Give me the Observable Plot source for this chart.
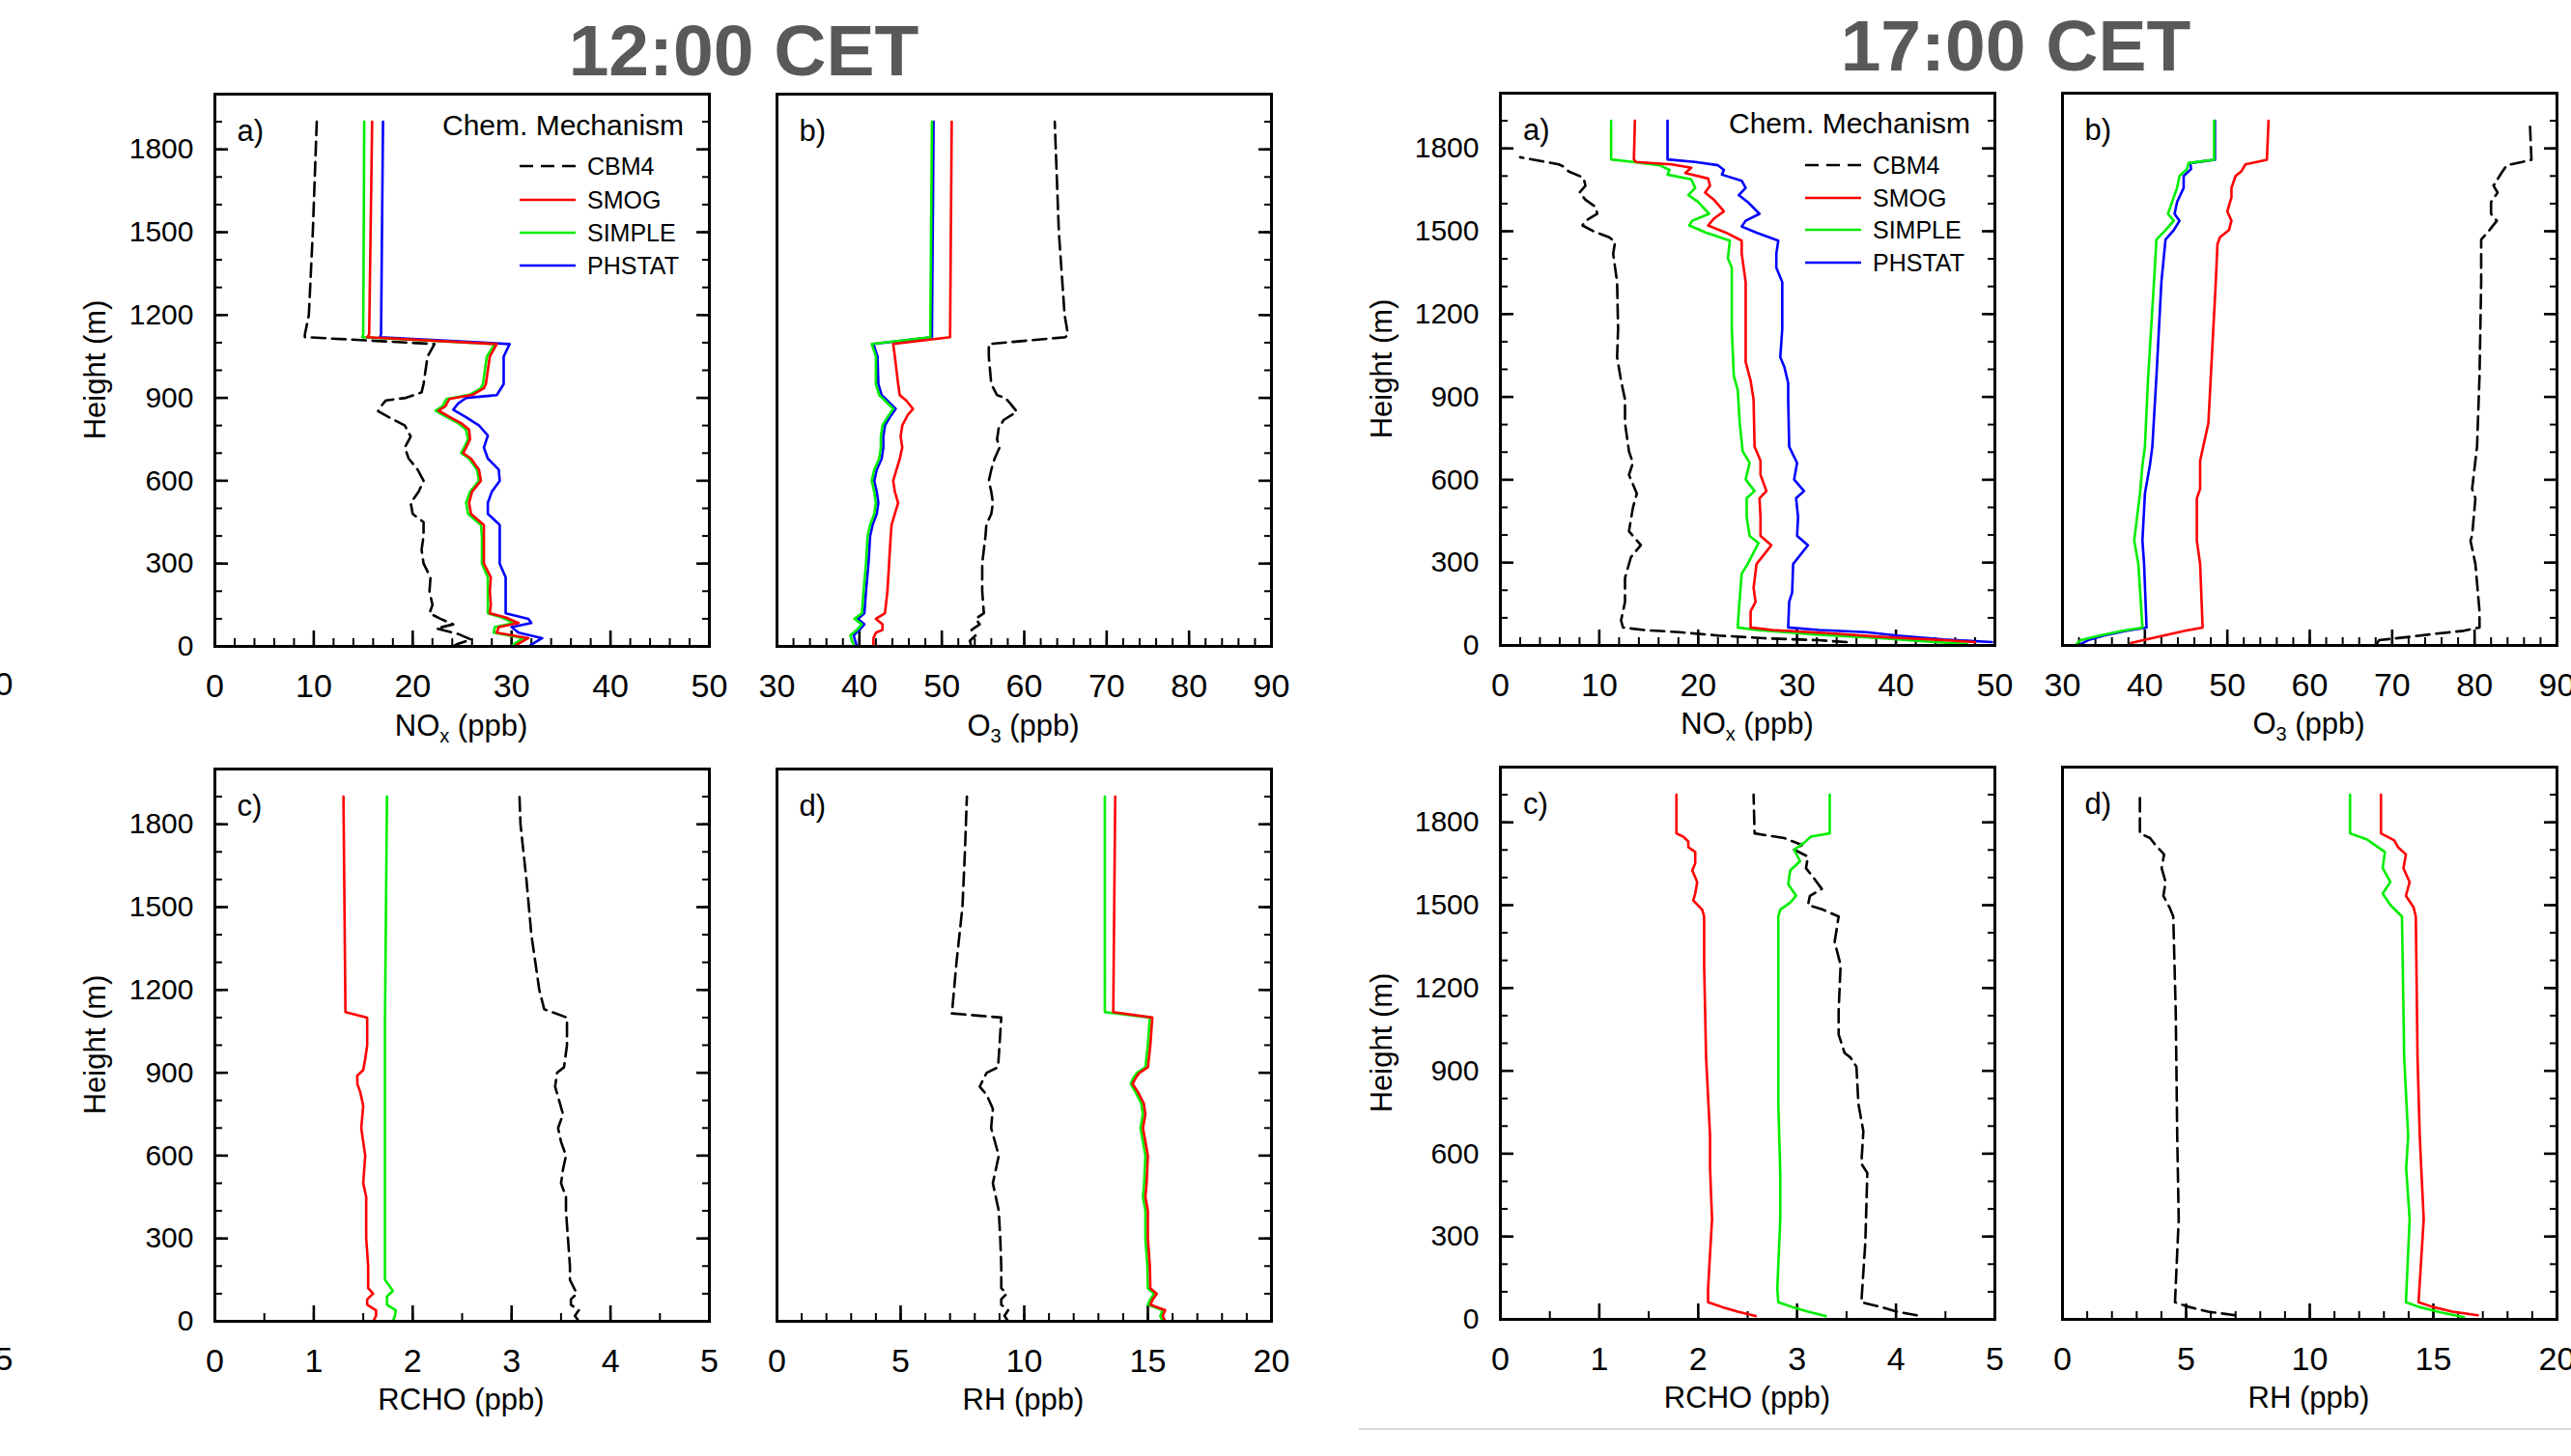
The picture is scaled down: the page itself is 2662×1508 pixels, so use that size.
<!DOCTYPE html>
<html><head><meta charset="utf-8">
<script src="https://cdn.jsdelivr.net/npm/d3@7"></script>
<script src="https://cdn.jsdelivr.net/npm/@observablehq/plot@0.6"></script>
<style>
html,body{margin:0;padding:0;background:#fff;}
#page{position:relative;width:2662px;height:1508px;overflow:hidden;background:#fff;font-family:"Liberation Sans",Arial,Helvetica,sans-serif;}
#page svg{position:absolute;}
</style></head>
<body><div id="page"></div>
<script>
// ---------------- DATA (height m, value ppb) ----------------
// 12:00 CET
const NOX12_CBM4 = [[0,24.1],[10,24.6],[25,25.9],[45,24.6],[65,22.4],[80,24.1],[100,22.8],[120,21.7],[150,22.0],[200,21.7],[250,21.8],[300,21.1],[350,20.9],[400,21.1],[450,21.1],[480,20.0],[520,19.8],[560,20.6],[600,21.1],[640,20.5],[680,19.6],[720,19.2],[760,19.8],[800,19.2],[830,17.6],[852,16.5],[870,16.8],[891,17.3],[900,19.3],[920,20.9],[950,21.1],[1000,21.3],[1050,21.5],[1095,22.2],[1120,9.1],[1130,9.1],[1200,9.5],[1500,9.9],[1900,10.3]];
const NOX12_SMOG = [[0,30.3],[10,30.7],[30,31.7],[50,28.5],[70,28.7],[85,30.7],[105,29.4],[120,27.8],[150,27.9],[200,27.8],[250,27.9],[300,27.2],[400,27.2],[440,27.2],[480,25.9],[520,25.7],[560,26.0],[600,26.9],[640,26.7],[680,25.9],[700,25.1],[720,25.4],[750,25.8],[785,25.7],[806,25.0],[832,23.7],[854,22.6],[869,23.3],[896,23.7],[912,26.1],[935,27.2],[950,27.4],[1050,27.8],[1095,28.5],[1120,15.4],[1130,15.6],[1900,15.9]];
const NOX12_SIMPLE = [[0,30.0],[10,30.3],[30,31.2],[50,28.2],[70,28.3],[85,30.2],[105,29.0],[120,27.6],[150,27.6],[200,27.6],[250,27.6],[300,27.0],[400,27.0],[440,26.9],[480,25.6],[520,25.4],[560,25.8],[600,26.7],[640,26.5],[680,25.7],[700,24.9],[720,25.2],[750,25.6],[785,25.4],[806,24.7],[832,23.4],[854,22.3],[869,23.0],[896,23.4],[912,25.8],[935,26.9],[950,27.1],[1050,27.5],[1095,28.3],[1120,14.9],[1130,15.0],[1900,15.1]];
const NOX12_PHSTAT = [[0,31.7],[15,32.4],[30,33.1],[50,30.7],[70,30.0],[85,32.0],[100,31.7],[120,29.4],[150,29.4],[200,29.4],[250,29.4],[300,28.8],[400,28.8],[440,28.8],[480,27.6],[520,27.6],[560,28.0],[600,28.8],[640,28.7],[680,27.6],[720,27.2],[764,27.6],[800,26.7],[830,25.4],[857,24.1],[880,24.6],[890,25.0],[900,25.4],[910,28.5],[950,29.2],[1050,29.2],[1095,29.8],[1120,16.7],[1130,16.8],[1900,17.0]];

const O312_CBM4 = [[0,53.6],[20,53.4],[40,54.1],[60,53.6],[80,54.6],[100,54.1],[120,55.1],[200,54.9],[300,54.9],[400,55.3],[440,55.4],[480,56.0],[520,56.2],[560,56.0],[600,55.7],[640,56.0],[680,56.4],[720,57.0],[750,56.7],[790,56.9],[820,57.5],[850,59.1],[880,58.3],[900,57.7],[910,56.7],[950,56.0],[1050,55.7],[1095,55.7],[1120,65.0],[1130,65.3],[1200,64.9],[1500,64.2],[1900,63.7]];
const O312_SMOG = [[0,41.7],[30,41.7],[50,42.0],[60,42.8],[80,42.8],[100,42.0],[120,43.1],[200,43.4],[300,43.6],[400,43.8],[440,43.9],[480,44.3],[520,44.7],[560,44.3],[600,44.1],[640,44.5],[680,44.9],[720,45.2],[760,45.0],[800,45.2],[840,45.9],[860,46.5],[890,45.7],[910,44.9],[950,44.7],[1050,44.3],[1095,44.1],[1120,51.0],[1900,51.2]];
const O312_SIMPLE = [[0,39.4],[20,39.1],[40,38.9],[60,39.7],[80,40.3],[100,39.4],[120,40.3],[200,40.5],[300,40.8],[400,41.0],[440,41.3],[480,41.8],[520,42.0],[560,41.8],[600,41.5],[640,41.8],[680,42.4],[720,42.6],[760,42.6],[800,42.8],[830,43.4],[860,44.1],[890,43.1],[910,42.4],[950,42.0],[1050,42.0],[1095,41.5],[1120,48.6],[1900,48.8]];
const O312_PHSTAT = [[0,39.7],[20,39.5],[40,39.3],[60,40.0],[80,40.6],[100,39.8],[120,40.6],[200,40.8],[300,41.1],[400,41.3],[440,41.6],[480,42.1],[520,42.3],[560,42.1],[600,41.8],[640,42.1],[680,42.7],[720,42.9],[760,42.9],[800,43.1],[830,43.7],[860,44.4],[890,43.4],[910,42.7],[950,42.3],[1050,42.2],[1095,41.7],[1120,48.8],[1900,49.0]];

const RCHO12_CBM4 = [[0,3.68],[20,3.64],[40,3.68],[60,3.60],[80,3.60],[100,3.66],[150,3.59],[200,3.59],[300,3.57],[400,3.55],[450,3.55],[500,3.50],[550,3.52],[600,3.55],[650,3.50],[700,3.47],[750,3.52],[800,3.48],[850,3.44],[900,3.46],[920,3.53],[1000,3.56],[1100,3.56],[1130,3.33],[1200,3.28],[1400,3.20],[1600,3.15],[1800,3.09],[1900,3.08]];
const RCHO12_SMOG = [[0,1.60],[20,1.63],[40,1.63],[60,1.54],[80,1.54],[100,1.60],[120,1.55],[200,1.55],[300,1.53],[400,1.53],[450,1.53],[500,1.50],[600,1.52],[700,1.48],[780,1.50],[830,1.47],[860,1.44],[890,1.44],[910,1.50],[950,1.52],[1000,1.54],[1100,1.54],[1120,1.32],[1900,1.30]];
const RCHO12_SIMPLE = [[0,1.80],[20,1.82],[40,1.83],[60,1.74],[90,1.74],[110,1.80],[150,1.72],[300,1.72],[600,1.72],[900,1.72],[1100,1.72],[1500,1.73],[1900,1.74]];

const RH12_CBM4 = [[0,9.35],[20,9.2],[40,9.35],[60,9.07],[80,9.07],[100,9.29],[120,9.07],[200,9.07],[300,9.03],[400,8.97],[450,8.85],[500,8.73],[600,8.97],[700,8.66],[770,8.73],[820,8.48],[850,8.2],[870,8.31],[900,8.48],[920,8.94],[1000,9.0],[1100,9.07],[1115,7.06],[1130,7.09],[1300,7.26],[1500,7.5],[1700,7.6],[1900,7.68]];
const RH12_SMOG = [[0,15.7],[20,15.6],[40,15.7],[60,15.1],[80,15.2],[100,15.36],[120,15.1],[200,15.08],[300,15.0],[400,15.0],[450,14.9],[500,14.95],[600,15.0],[650,14.9],[700,14.8],[750,14.9],[790,14.83],[830,14.6],[860,14.38],[880,14.5],[900,14.66],[920,15.0],[1000,15.1],[1100,15.18],[1120,13.6],[1900,13.68]];
const RH12_SIMPLE = [[0,15.6],[20,15.5],[40,15.6],[60,15.0],[80,15.1],[100,15.25],[120,15.0],[200,14.98],[300,14.9],[400,14.9],[450,14.8],[500,14.85],[600,14.9],[650,14.8],[700,14.7],[750,14.8],[790,14.73],[830,14.5],[860,14.31],[880,14.4],[900,14.56],[920,14.9],[1000,15.0],[1100,15.08],[1120,13.26],[1900,13.26]];

// 17:00 CET
const NOX17_CBM4 = [[12,35.0],[19,32.2],[26,26.7],[36,22.0],[48,18.1],[56,14.5],[65,12.4],[90,12.2],[158,12.6],[244,12.6],[320,13.2],[363,14.2],[414,13.0],[499,13.4],[550,13.8],[618,13.0],[661,13.4],[703,13.0],[805,12.6],[891,12.6],[959,12.2],[1044,11.8],[1146,11.9],[1316,11.8],[1419,11.4],[1461,11.6],[1478,11.0],[1500,9.4],[1521,8.3],[1538,8.6],[1563,9.8],[1589,9.6],[1614,8.6],[1640,8.0],[1665,8.6],[1694,8.4],[1717,6.9],[1734,6.4],[1742,5.9],[1768,2.0]];
const NOX17_SMOG = [[12,48.0],[19,44.8],[31,38.5],[43,33.8],[56,27.5],[65,25.3],[124,25.3],[158,25.8],[209,25.6],[295,25.9],[363,27.4],[397,26.3],[465,26.3],[533,26.2],[559,26.9],[618,26.3],[669,26.3],[720,25.7],[891,25.6],[959,25.3],[1027,24.8],[1146,24.8],[1316,24.8],[1419,24.4],[1466,24.4],[1495,22.8],[1521,21.0],[1546,21.6],[1572,22.6],[1614,21.6],[1640,20.7],[1665,21.2],[1691,21.0],[1711,18.7],[1730,19.3],[1742,17.3],[1751,13.7],[1760,13.5],[1900,13.6]];
const NOX17_SIMPLE = [[5,47.2],[14,43.2],[26,38.5],[39,32.2],[56,25.9],[65,24.0],[124,24.1],[260,24.4],[295,25.0],[371,26.1],[397,25.2],[465,24.9],[533,24.9],[559,25.7],[601,24.8],[661,25.2],[703,24.5],[805,24.2],[925,24.0],[976,23.6],[1146,23.4],[1368,23.4],[1402,23.0],[1466,23.2],[1495,20.8],[1521,19.1],[1538,19.4],[1563,21.1],[1606,20.0],[1631,19.0],[1657,19.7],[1688,19.3],[1705,16.9],[1722,17.1],[1739,16.1],[1751,13.4],[1760,11.2],[1900,11.2]];
const NOX17_PHSTAT = [[12,49.7],[22,44.8],[36,40.1],[48,37.0],[56,32.2],[65,29.1],[158,29.2],[192,29.5],[295,29.6],[363,31.1],[397,30.0],[465,30.1],[533,29.9],[559,30.7],[601,29.7],[661,30.0],[720,29.2],[891,29.1],[950,29.1],[1010,28.7],[1044,28.3],[1146,28.5],[1316,28.5],[1368,27.9],[1419,27.9],[1466,28.1],[1495,25.9],[1517,24.4],[1538,24.8],[1563,26.2],[1606,25.0],[1631,24.1],[1657,24.8],[1683,24.4],[1705,22.4],[1722,22.6],[1739,22.0],[1751,19.7],[1760,16.9],[1900,16.9]];

const O317_CBM4 = [[9,68.2],[19,68.4],[31,72.1],[43,75.4],[53,78.7],[65,80.6],[124,80.6],[295,80.1],[380,79.5],[397,79.7],[533,80.1],[567,79.7],[720,80.3],[976,80.6],[1316,80.8],[1470,80.8],[1504,81.8],[1538,82.7],[1563,82.0],[1606,82.0],[1640,82.8],[1665,82.3],[1708,83.2],[1739,83.9],[1751,85.8],[1759,86.9],[1900,86.7]];
const O317_SMOG = [[9,38.3],[22,40.2],[39,42.8],[53,44.9],[65,47.0],[295,46.7],[380,46.3],[533,46.3],[567,46.7],[669,46.7],[805,47.7],[976,48.0],[1316,48.6],[1453,48.8],[1478,49.1],[1504,50.2],[1538,50.5],[1572,50.0],[1623,50.5],[1657,50.5],[1700,51.0],[1717,51.7],[1742,52.2],[1759,54.8],[1900,55.0]];
const O317_SIMPLE = [[5,31.7],[19,32.2],[36,34.5],[53,37.3],[65,39.7],[295,39.2],[380,38.7],[550,39.4],[652,39.7],[720,40.0],[976,40.4],[1316,41.1],[1470,41.4],[1504,42.5],[1538,43.5],[1563,42.8],[1606,43.3],[1657,43.9],[1700,44.2],[1725,45.1],[1747,45.3],[1759,48.4],[1900,48.4]];
const O317_PHSTAT = [[5,32.2],[19,33.1],[36,35.0],[53,37.8],[65,40.2],[295,39.9],[380,39.7],[550,40.0],[652,40.6],[720,40.9],[976,41.4],[1316,42.0],[1470,42.5],[1504,43.5],[1538,44.2],[1563,43.6],[1606,43.9],[1657,44.7],[1700,44.7],[1725,45.6],[1747,45.5],[1759,48.5],[1900,48.5]];

const RCHO17_CBM4 = [[15,4.21],[28,4.01],[45,3.85],[62,3.65],[279,3.69],[530,3.71],[564,3.65],[681,3.67],[781,3.62],[915,3.60],[948,3.54],[965,3.48],[1032,3.42],[1116,3.42],[1283,3.44],[1367,3.38],[1459,3.42],[1484,3.26],[1501,3.11],[1534,3.13],[1559,3.25],[1593,3.18],[1634,3.09],[1676,3.11],[1701,2.97],[1718,3.05],[1743,2.87],[1760,2.57],[1900,2.56]];
const RCHO17_SMOG = [[12,2.58],[28,2.40],[45,2.24],[62,2.10],[112,2.10],[363,2.14],[547,2.12],[664,2.12],[948,2.08],[1283,2.06],[1459,2.06],[1484,2.04],[1517,1.95],[1542,1.97],[1584,1.99],[1626,1.94],[1651,1.97],[1693,1.97],[1710,1.90],[1731,1.90],[1748,1.85],[1760,1.78],[1900,1.78]];
const RCHO17_SIMPLE = [[12,3.29],[28,3.11],[45,2.95],[62,2.81],[112,2.80],[363,2.83],[530,2.83],[781,2.81],[1116,2.81],[1459,2.81],[1484,2.83],[1509,2.93],[1534,2.99],[1576,2.91],[1626,2.93],[1659,3.03],[1701,2.97],[1726,3.07],[1748,3.14],[1760,3.33],[1900,3.33]];

const RH17_CBM4 = [[15,6.99],[28,5.89],[45,5.11],[62,4.55],[363,4.70],[664,4.64],[1116,4.58],[1459,4.48],[1492,4.33],[1534,4.08],[1584,4.17],[1634,4.01],[1684,4.11],[1718,3.76],[1743,3.54],[1760,3.13],[1900,3.13]];
const RH17_SMOG = [[15,16.8],[28,15.77],[45,14.98],[62,14.4],[363,14.61],[547,14.51],[664,14.45],[948,14.36],[1459,14.29],[1492,14.2],[1534,13.89],[1584,14.04],[1634,13.79],[1684,13.89],[1710,13.57],[1735,13.42],[1760,12.88],[1900,12.88]];
const RH17_SIMPLE = [[8,16.24],[25,15.3],[45,14.42],[62,13.89],[363,14.04],[547,13.9],[664,13.98],[948,13.82],[1459,13.73],[1501,13.26],[1542,12.95],[1584,13.26],[1634,12.95],[1693,13.04],[1718,12.63],[1738,12.32],[1760,11.63],[1900,11.63]];

// ---------------- labels / ticks ----------------
const TITLES = ["12:00 CET", "17:00 CET"];
const MECHANISMS = ["CBM4", "SMOG", "SIMPLE", "PHSTAT"];
const MECH_COLORS = {CBM4: "#000000", SMOG: "#ff0000", SIMPLE: "#00ee00", PHSTAT: "#0000ff"};
const LEGEND_TITLE = "Chem. Mechanism";
const Y_LABEL = "Height (m)";
const HEIGHT_TICKS = [0, 300, 600, 900, 1200, 1500, 1800];
const NOX_TICKS = [0, 10, 20, 30, 40, 50];
const O3_TICKS = [30, 40, 50, 60, 70, 80, 90];
const RCHO_TICKS = [0, 1, 2, 3, 4, 5];
const RH_TICKS = [0, 5, 10, 15, 20];

// ---------------- layout ----------------
const W = 512, H = 572, ML = 110, MR = 12, MT = 12, MB = 70;
const page = document.getElementById("page");
const FONT = "'Liberation Sans', Arial, Helvetica, sans-serif";

function seriesOf(obj) {
  // draw order: CBM4, PHSTAT, SIMPLE, SMOG
  return ["CBM4", "PHSTAT", "SIMPLE", "SMOG"].filter(k => obj[k]).map(k => ({name: k, data: obj[k]}));
}

function panel({fx, fy, domain, major, minorStep, series, leftAxis}) {
  const minor = d3.range(domain[0], domain[1] + 1e-9, minorStep);
  const hMinor = d3.range(0, 2000, 100);
  const marks = [
    Plot.axisX({ticks: minor, tickSize: -8, tickFormat: () => "", strokeWidth: 2, label: null}),
    Plot.axisX({ticks: major, tickSize: -16, tickPadding: 44, fontSize: 34, strokeWidth: 2.6, label: null, tickFormat: "d"}),
    Plot.axisY({anchor: "right", ticks: hMinor, tickSize: -8, tickFormat: () => "", strokeWidth: 2, label: null}),
    Plot.axisY({anchor: "right", ticks: HEIGHT_TICKS, tickSize: -14, tickFormat: () => "", strokeWidth: 2.6, label: null})
  ];
  if (leftAxis) {
    marks.push(Plot.axisY({anchor: "left", ticks: hMinor, tickSize: -8, tickFormat: () => "", strokeWidth: 2, label: null}));
    marks.push(Plot.axisY({anchor: "left", ticks: HEIGHT_TICKS, tickSize: -14, tickPadding: 36, fontSize: 30, strokeWidth: 2.6, label: null, tickFormat: "d"}));
  }
  for (const s of series) {
    marks.push(Plot.line(s.data, {
      x: d => d[1], y: d => d[0],
      stroke: MECH_COLORS[s.name], strokeWidth: 2.6,
      strokeDasharray: s.name === "CBM4" ? "14,7" : null,
      strokeLinejoin: "round"
    }));
  }
  marks.push(Plot.frame({strokeWidth: 3}));
  const svg = Plot.plot({
    width: ML + W + MR, height: MT + H + MB,
    marginLeft: ML, marginRight: MR, marginTop: MT, marginBottom: MB,
    x: {domain, nice: false},
    y: {domain: [0, 2000], nice: false},
    style: {fontFamily: FONT, color: "black", background: "transparent", overflow: "visible"},
    marks
  });
  svg.style.position = "absolute";
  svg.style.left = (fx - ML) + "px";
  svg.style.top = (fy - MT) + "px";
  svg.style.maxWidth = "none";
  page.appendChild(svg);
}

const GROUPS = [
  {
    title: TITLES[0], tx: 770, ty: 78,
    ax: 221.5, bx: 803.5, topY: 97, botY: 796, xt1: 762, xt2: 1460, hx: 109,
    nox: {CBM4: NOX12_CBM4, SMOG: NOX12_SMOG, SIMPLE: NOX12_SIMPLE, PHSTAT: NOX12_PHSTAT},
    o3: {CBM4: O312_CBM4, SMOG: O312_SMOG, SIMPLE: O312_SIMPLE, PHSTAT: O312_PHSTAT},
    rcho: {CBM4: RCHO12_CBM4, SMOG: RCHO12_SMOG, SIMPLE: RCHO12_SIMPLE},
    rh: {CBM4: RH12_CBM4, SMOG: RH12_SMOG, SIMPLE: RH12_SIMPLE},
    legX: 538, legY: [172, 207, 241, 275], legTitleX: 458, legTitleY: 140
  },
  {
    title: TITLES[1], tx: 2087, ty: 73,
    ax: 1553, bx: 2134.5, topY: 96, botY: 794, xt1: 760, xt2: 1458, hx: 1441,
    nox: {CBM4: NOX17_CBM4, SMOG: NOX17_SMOG, SIMPLE: NOX17_SIMPLE, PHSTAT: NOX17_PHSTAT},
    o3: {CBM4: O317_CBM4, SMOG: O317_SMOG, SIMPLE: O317_SIMPLE, PHSTAT: O317_PHSTAT},
    rcho: {CBM4: RCHO17_CBM4, SMOG: RCHO17_SMOG, SIMPLE: RCHO17_SIMPLE},
    rh: {CBM4: RH17_CBM4, SMOG: RH17_SMOG, SIMPLE: RH17_SIMPLE},
    legX: 1869, legY: [171, 205, 238, 272], legTitleX: 1790, legTitleY: 138
  }
];

for (const g of GROUPS) {
  panel({fx: g.ax, fy: g.topY, domain: [0, 50], major: NOX_TICKS, minorStep: 2, series: seriesOf(g.nox), leftAxis: true});
  panel({fx: g.bx, fy: g.topY, domain: [30, 90], major: O3_TICKS, minorStep: 2, series: seriesOf(g.o3), leftAxis: false});
  panel({fx: g.ax, fy: g.botY, domain: [0, 5], major: RCHO_TICKS, minorStep: 0.5, series: seriesOf(g.rcho), leftAxis: true});
  panel({fx: g.bx, fy: g.botY, domain: [0, 20], major: RH_TICKS, minorStep: 1, series: seriesOf(g.rh), leftAxis: false});
}

// ---------------- overlay text ----------------
const ov = d3.select(page).append("svg")
  .attr("width", 2662).attr("height", 1508)
  .style("left", "0px").style("top", "0px")
  .style("font-family", FONT).style("pointer-events", "none");

for (const g of GROUPS) {
  ov.append("text").attr("x", g.tx).attr("y", g.ty).attr("text-anchor", "middle")
    .attr("font-size", 75).attr("font-weight", "bold").attr("fill", "#595959").text(g.title);

  // panel letters
  const letters = [["a)", g.ax, g.topY], ["b)", g.bx, g.topY], ["c)", g.ax, g.botY], ["d)", g.bx, g.botY]];
  for (const [t, x, y] of letters) {
    ov.append("text").attr("x", x + 24).attr("y", y + 49).attr("font-size", 31).text(t);
  }

  // y labels
  for (const y of [g.topY, g.botY]) {
    ov.append("text").attr("transform", `translate(${g.hx},${y + H / 2}) rotate(-90)`)
      .attr("text-anchor", "middle").attr("font-size", 31).text(Y_LABEL);
  }

  // x labels
  const xl = (cx, y, main, sub, rest) => {
    const t = ov.append("text").attr("x", cx).attr("y", y).attr("text-anchor", "middle").attr("font-size", 31);
    t.append("tspan").text(main);
    if (sub) t.append("tspan").attr("font-size", 20).attr("dy", 7).text(sub);
    t.append("tspan").attr("dy", sub ? -7 : 0).text(rest);
  };
  xl(g.ax + W / 2, g.xt1, "NO", "x", " (ppb)");
  xl(g.bx + W / 2, g.xt1, "O", "3", " (ppb)");
  xl(g.ax + W / 2, g.xt2, "RCHO", null, " (ppb)");
  xl(g.bx + W / 2, g.xt2, "RH", null, " (ppb)");

  // legend
  ov.append("text").attr("x", g.legTitleX).attr("y", g.legTitleY).attr("font-size", 30).text(LEGEND_TITLE);
  MECHANISMS.forEach((m, i) => {
    const y = g.legY[i];
    ov.append("line").attr("x1", g.legX).attr("x2", g.legX + 58).attr("y1", y).attr("y2", y)
      .attr("stroke", MECH_COLORS[m]).attr("stroke-width", 2.6)
      .attr("stroke-dasharray", m === "CBM4" ? "14,8" : null);
    ov.append("text").attr("x", g.legX + 70).attr("y", y + 9).attr("font-size", 25).text(m);
  });
}

// fragments at the left edge and separator line at bottom right
ov.append("text").attr("x", 4).attr("y", 720).attr("text-anchor", "middle").attr("font-size", 34).text("0");
ov.append("text").attr("x", 4).attr("y", 1419).attr("text-anchor", "middle").attr("font-size", 34).text("5");
ov.append("line").attr("x1", 1407).attr("x2", 2662).attr("y1", 1480).attr("y2", 1480)
  .attr("stroke", "#d9d9d9").attr("stroke-width", 2);
</script>
</body></html>
